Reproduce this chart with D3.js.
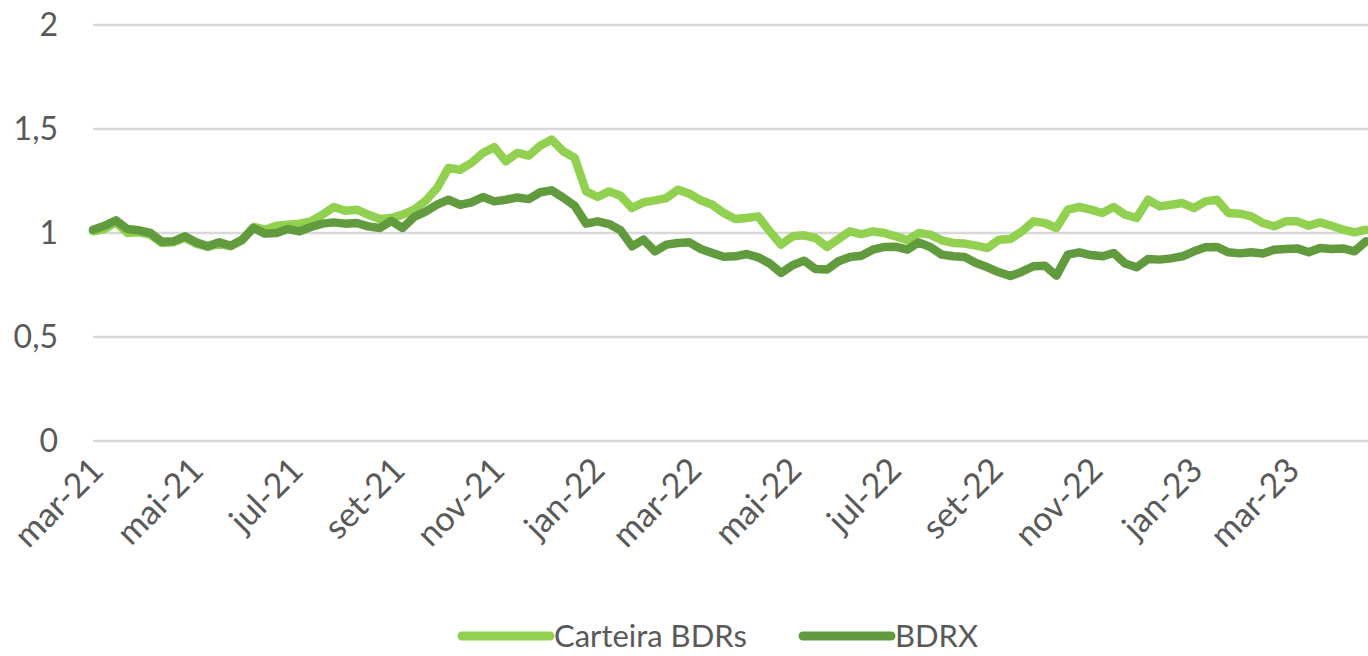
<!DOCTYPE html>
<html>
<head>
<meta charset="utf-8">
<script src="https://cdn.jsdelivr.net/npm/d3@7"></script>
<style>
  body { margin: 0; background: #fff; }
  text { font-family: Lato, "Open Sans", sans-serif; fill: #595959; }
</style>
</head>
<body>
<svg width="1368" height="656"></svg>
<script>
// weekly closes, base 1 = mar-21
var startDate = "2021-03-01";

var carteira = [
  1.008, 1.019, 1.051, 1.000, 1.003, 0.992, 0.952, 0.955, 0.976, 0.949,
  0.933, 0.949, 0.936, 0.965, 1.029, 1.016, 1.035, 1.040, 1.045, 1.056,
  1.088, 1.125, 1.107, 1.112, 1.088, 1.067, 1.072, 1.088, 1.112, 1.155,
  1.216, 1.313, 1.304, 1.337, 1.385, 1.413, 1.345, 1.385, 1.372, 1.420,
  1.449, 1.393, 1.361, 1.200, 1.173, 1.200, 1.179, 1.120, 1.147, 1.157,
  1.168, 1.208, 1.189, 1.157, 1.136, 1.096, 1.067, 1.072, 1.080, 1.008,
  0.944, 0.984, 0.989, 0.976, 0.933, 0.971, 1.008, 0.994, 1.008, 1.000,
  0.984, 0.965, 1.000, 0.992, 0.965, 0.952, 0.949, 0.939, 0.928, 0.968,
  0.971, 1.008, 1.056, 1.048, 1.024, 1.112, 1.125, 1.112, 1.096, 1.125,
  1.088, 1.072, 1.160, 1.128, 1.136, 1.144, 1.120, 1.152, 1.160, 1.096,
  1.093, 1.080, 1.048, 1.032, 1.056, 1.056, 1.035, 1.051, 1.035, 1.016,
  1.003, 1.016
];

var bdrx = [
  1.016, 1.035, 1.061, 1.019, 1.013, 1.000, 0.958, 0.960, 0.984, 0.955,
  0.936, 0.955, 0.939, 0.968, 1.024, 0.997, 1.000, 1.019, 1.008, 1.029,
  1.045, 1.051, 1.045, 1.048, 1.032, 1.024, 1.058, 1.024, 1.077, 1.103,
  1.136, 1.160, 1.135, 1.147, 1.173, 1.152, 1.160, 1.171, 1.163, 1.196,
  1.205, 1.170, 1.131, 1.045, 1.056, 1.043, 1.013, 0.936, 0.968, 0.912,
  0.944, 0.952, 0.955, 0.923, 0.904, 0.886, 0.888, 0.899, 0.883, 0.854,
  0.808, 0.845, 0.867, 0.827, 0.824, 0.864, 0.885, 0.891, 0.920, 0.933,
  0.934, 0.920, 0.955, 0.933, 0.896, 0.888, 0.885, 0.856, 0.835, 0.811,
  0.793, 0.814, 0.840, 0.843, 0.795, 0.896, 0.907, 0.894, 0.888, 0.904,
  0.853, 0.835, 0.875, 0.872, 0.878, 0.888, 0.912, 0.931, 0.933, 0.907,
  0.902, 0.907, 0.901, 0.920, 0.923, 0.926, 0.907, 0.928, 0.923, 0.926,
  0.912, 0.960
];

var tickDates = ["2021-03-01", "2021-05-01", "2021-07-01", "2021-09-01", "2021-11-01",
  "2022-01-01", "2022-03-01", "2022-05-01", "2022-07-01", "2022-09-01", "2022-11-01",
  "2023-01-01", "2023-03-01"];
var tickLabels = ["mar-21", "mai-21", "jul-21", "set-21", "nov-21", "jan-22", "mar-22",
  "mai-22", "jul-22", "set-22", "nov-22", "jan-23", "mar-23"];

var yTicks = [0, 0.5, 1, 1.5, 2];
var seriesNames = ["Carteira BDRs", "BDRX"];
var colors = ["#92D050", "#619B3D"];

var width = 1368;
var height = 656;
var margin = {left: 93, right: 0, top: 25, bottom: 215};

var parse = d3.timeParse("%Y-%m-%d");
var start = parse(startDate);
var dates = carteira.map(function (d, i) { return d3.timeDay.offset(start, 7 * i); });

var x = d3.scaleTime()
  .domain([start, dates[dates.length - 1]])
  .range([margin.left, width - 2]);
var y = d3.scaleLinear().domain([0, 2]).range([height - margin.bottom, margin.top]);

var svg = d3.select("svg");

// gridlines
svg.append("g")
  .selectAll("line")
  .data(yTicks)
  .enter()
  .append("line")
  .attr("x1", margin.left)
  .attr("x2", width)
  .attr("y1", function (d) { return y(d); })
  .attr("y2", function (d) { return y(d); })
  .attr("stroke", "#D9D9D9")
  .attr("stroke-width", 2.5);

// y labels
var fmt = function (d) { return String(d).replace(".", ","); };
svg.append("g")
  .selectAll("text")
  .data(yTicks)
  .enter()
  .append("text")
  .attr("x", 58)
  .attr("y", function (d) { return y(d); })
  .attr("dy", "0.35em")
  .attr("text-anchor", "end")
  .style("font-size", "32px")
  .text(fmt);

// x labels
svg.append("g")
  .selectAll("text")
  .data(tickDates)
  .enter()
  .append("text")
  .attr("transform", function (d) {
    return "translate(" + (x(parse(d)) + 4) + "," + 464 + ") rotate(-45)";
  })
  .attr("dy", "0.35em")
  .attr("text-anchor", "end")
  .style("font-size", "34px")
  .text(function (d, i) { return tickLabels[i]; });

// lines
var line = d3.line()
  .x(function (d, i) { return x(dates[i]); })
  .y(function (d) { return y(d); });

[carteira, bdrx].forEach(function (s, k) {
  svg.append("path")
    .datum(s)
    .attr("fill", "none")
    .attr("stroke", colors[k])
    .attr("stroke-width", 8.5)
    .attr("stroke-linejoin", "round")
    .attr("stroke-linecap", "round")
    .attr("d", line);
});

// legend
var legendX = [462, 803];
var leg = svg.append("g");
seriesNames.forEach(function (name, k) {
  leg.append("line")
    .attr("x1", legendX[k])
    .attr("x2", legendX[k] + 88)
    .attr("y1", 636)
    .attr("y2", 636)
    .attr("stroke", colors[k])
    .attr("stroke-width", 9)
    .attr("stroke-linecap", "round");
  leg.append("text")
    .attr("x", legendX[k] + 92)
    .attr("y", 636)
    .attr("dy", "0.35em")
    .style("font-size", "31px")
    .text(name);
});
</script>
</body>
</html>
